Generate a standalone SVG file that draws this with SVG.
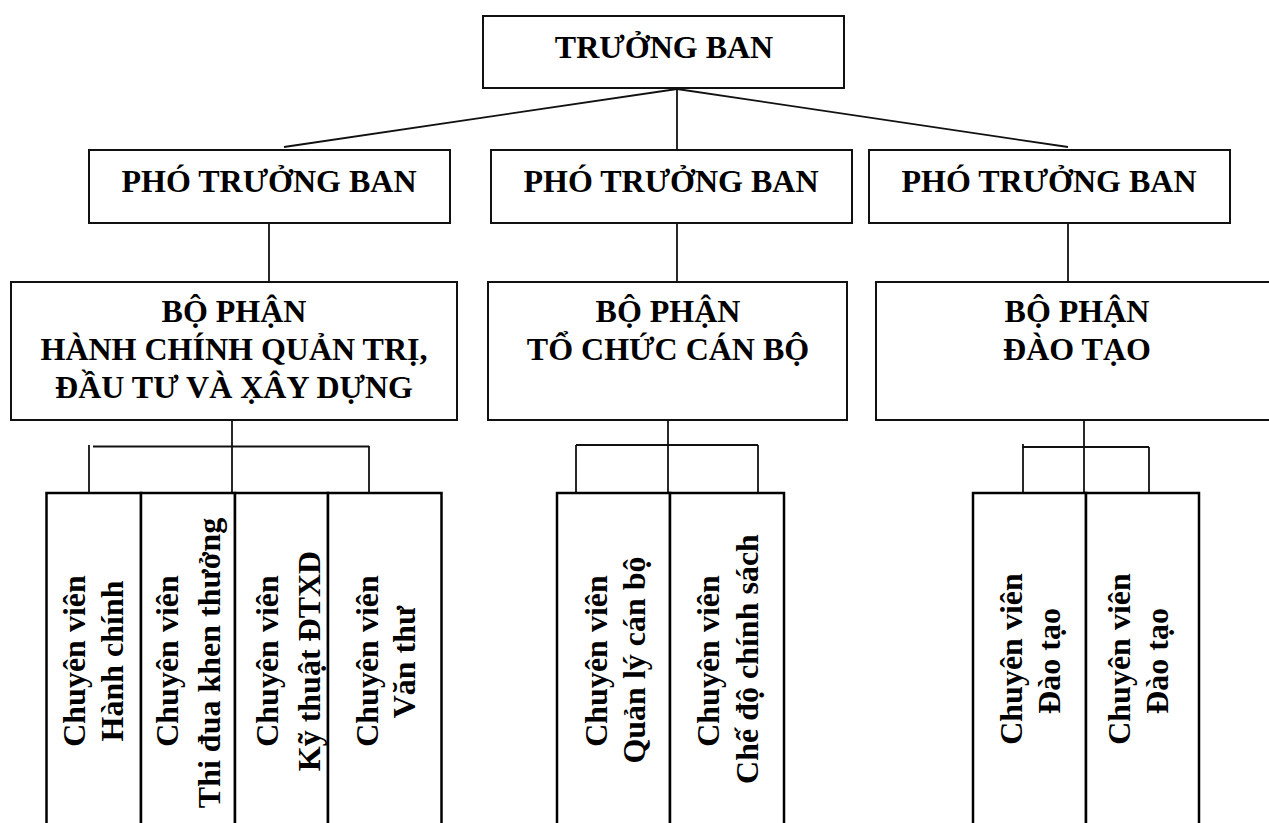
<svg xmlns="http://www.w3.org/2000/svg" width="1269" height="823" viewBox="0 0 1269 823">
<style>
  .box { fill: #ffffff; stroke: #111111; stroke-width: 2; }
  .sub { fill: #ffffff; stroke: #000000; stroke-width: 2.5; }
  .t { font-family: "Liberation Serif", "Times New Roman", serif; font-weight: bold; font-size: 32px; fill: #000000; text-anchor: middle; }
  .conn line { stroke: #111111; stroke-width: 1.8; fill: none; }
</style>
<rect x="0" y="0" width="1269" height="823" fill="#ffffff"/>

<g id="connectors" class="conn">
  <line x1="677" y1="89" x2="284" y2="147"/>
  <line x1="677" y1="89" x2="677" y2="150"/>
  <line x1="677" y1="89" x2="1068" y2="147"/>
  <line x1="269" y1="223" x2="269" y2="282"/>
  <line x1="677" y1="223" x2="677" y2="282"/>
  <line x1="1068" y1="223" x2="1068" y2="282"/>
  <line x1="232" y1="420" x2="232" y2="493"/>
  <line x1="93" y1="446.5" x2="369" y2="446.5"/>
  <line x1="89" y1="445" x2="89" y2="493"/>
  <line x1="369" y1="446" x2="369" y2="493"/>
  <line x1="668" y1="420" x2="668" y2="493"/>
  <line x1="576" y1="445" x2="758" y2="445"/>
  <line x1="576" y1="445" x2="576" y2="493"/>
  <line x1="758" y1="445" x2="758" y2="493"/>
  <line x1="1084" y1="420" x2="1084" y2="493"/>
  <line x1="1022" y1="447" x2="1149" y2="447"/>
  <line x1="1023" y1="444" x2="1023" y2="493"/>
  <line x1="1149" y1="447" x2="1149" y2="493"/>
</g>

<g id="truong-ban">
  <rect class="box" x="483" y="16" width="361" height="72"/>
  <text class="t" x="664" y="58">TRƯỞNG BAN</text>
</g>

<g id="pho-truong-ban-1">
  <rect class="box" x="89" y="150" width="361" height="73"/>
  <text class="t" x="269" y="192">PHÓ TRƯỞNG BAN</text>
</g>
<g id="pho-truong-ban-2">
  <rect class="box" x="491" y="150" width="361" height="73"/>
  <text class="t" x="671" y="192">PHÓ TRƯỞNG BAN</text>
</g>
<g id="pho-truong-ban-3">
  <rect class="box" x="869" y="150" width="361" height="73"/>
  <text class="t" x="1049" y="192">PHÓ TRƯỞNG BAN</text>
</g>

<g id="bo-phan-hanh-chinh">
  <rect class="box" x="11" y="282" width="446" height="138"/>
  <text class="t" x="234" y="322">BỘ PHẬN</text>
  <text class="t" x="234" y="360">HÀNH CHÍNH QUẢN TRỊ,</text>
  <text class="t" x="234" y="398">ĐẦU TƯ VÀ X̣ÂY DỰNG</text>
</g>
<g id="bo-phan-to-chuc">
  <rect class="box" x="488" y="282" width="359" height="138"/>
  <text class="t" x="668" y="322">BỘ PHẬN</text>
  <text class="t" x="668" y="360">TỔ CHỨC CÁN BỘ</text>
</g>
<g id="bo-phan-dao-tao">
  <rect class="box" x="876" y="282" width="410" height="138"/>
  <text class="t" x="1077" y="322">BỘ PHẬN</text>
  <text class="t" x="1077" y="360">ĐÀO TẠO</text>
</g>

<g id="cv-hanh-chinh">
  <rect class="sub" x="46.5" y="493" width="94.5" height="345"/>
  <text class="t" transform="translate(85,661) rotate(-90)">Chuyên viên</text>
  <text class="t" transform="translate(123,661) rotate(-90)">Hành chính</text>
</g>
<g id="cv-thi-dua">
  <rect class="sub" x="141" y="493" width="94" height="345"/>
  <text class="t" transform="translate(178,661) rotate(-90)">Chuyên viên</text>
  <text class="t" transform="translate(220,663) rotate(-90)">Thi đua khen thưởng</text>
</g>
<g id="cv-ky-thuat">
  <rect class="sub" x="235" y="493" width="93" height="345"/>
  <text class="t" transform="translate(278,661) rotate(-90)">Chuyên viên</text>
  <text class="t" transform="translate(320,661) rotate(-90)">Kỹ thuật ĐTXD</text>
</g>
<g id="cv-van-thu">
  <rect class="sub" x="328" y="493" width="113.5" height="345"/>
  <text class="t" transform="translate(378,661) rotate(-90)">Chuyên viên</text>
  <text class="t" transform="translate(415,662) rotate(-90)">Văn thư</text>
</g>

<g id="cv-quan-ly-can-bo">
  <rect class="sub" x="557" y="493" width="113" height="345"/>
  <text class="t" transform="translate(607,661) rotate(-90)">Chuyên viên</text>
  <text class="t" transform="translate(645,660) rotate(-90)">Quản lý cán bộ</text>
</g>
<g id="cv-che-do-chinh-sach">
  <rect class="sub" x="670" y="493" width="114" height="345"/>
  <text class="t" transform="translate(719,661) rotate(-90)">Chuyên viên</text>
  <text class="t" transform="translate(758,659) rotate(-90)">Chế độ chính sách</text>
</g>

<g id="cv-dao-tao-1">
  <rect class="sub" x="973" y="493" width="113" height="345"/>
  <text class="t" transform="translate(1022,659) rotate(-90)">Chuyên viên</text>
  <text class="t" transform="translate(1060,661) rotate(-90)">Đào tạo</text>
</g>
<g id="cv-dao-tao-2">
  <rect class="sub" x="1086" y="493" width="113" height="345"/>
  <text class="t" transform="translate(1130,659) rotate(-90)">Chuyên viên</text>
  <text class="t" transform="translate(1168,661) rotate(-90)">Đào tạo</text>
</g>
</svg>
